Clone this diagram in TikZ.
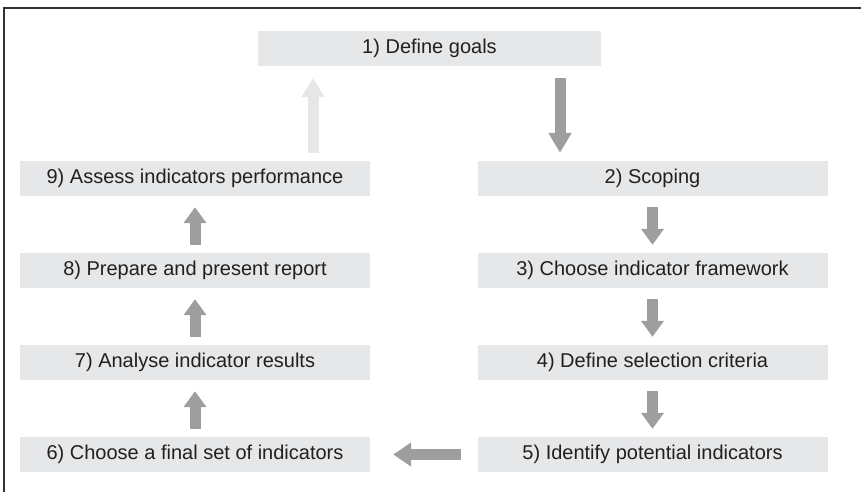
\documentclass[tikz,border=0pt]{standalone}
\usepackage{fontspec}
\setmainfont{Liberation Sans}
\usetikzlibrary{arrows.meta, shapes, positioning}
\definecolor{boxgray}{HTML}{E6E7E8}
\definecolor{arrowgray}{HTML}{9D9EA0}
\definecolor{textdark}{HTML}{231F20}
\tikzset{
	stepbox/.style={fill=boxgray, text=textdark, minimum width=350pt, minimum height=35pt, inner sep=0pt, font=\fontsize{20}{24}\selectfont},
	flow/.style={draw=arrowgray, line width=11pt, -{Triangle[width=22pt,length=16pt]}},
	downflow/.style={flow, shorten <=11pt, shorten >=8pt},
	upflow/.style={flow, shorten <=8pt, shorten >=11pt},
}

\begin{document}
\begin{tikzpicture}[x=1pt, y=-1pt]
	\useasboundingbox (0,0) rectangle (861,492);
	\draw[line width=1.5pt, black!80] (4,492) -- (4,8) -- (861,8);
	\node[stepbox, minimum width=343pt] (goals) at (429.5,48.5) {1) Define goals};
	\node[stepbox] (scoping) at (652.5,178.5) {2) Scoping};
	\node[stepbox] (framework) at (652.5,270.5) {3) Choose indicator framework};
	\node[stepbox] (criteria) at (652.5,362.5) {4) Define selection criteria};
	\node[stepbox] (potential) at (652.5,454.5) {5) Identify potential indicators};
	\node[stepbox] (finalset) at (195,454.5) {6) Choose a final set of indicators};
	\node[stepbox] (analyse) at (195,362.5) {7) Analyse indicator results};
	\node[stepbox] (report) at (195,270.5) {8) Prepare and present report};
	\node[stepbox] (assess) at (195,178.5) {9) Assess indicators performance};
	\coordinate (down1) at ([xshift=130.5pt]goals.south);
	\coordinate (up9) at ([xshift=118pt]assess.north);
	\draw[flow, -{Triangle[width=22pt,length=20pt]}, shorten <=12pt, shorten >=8pt]
	(down1) -- (down1 |- scoping.north);
	\draw[flow, draw=boxgray, -{Triangle[width=22pt,length=19pt]}, shorten <=8pt, shorten >=12pt]
	(up9) -- (up9 |- goals.south);
	\draw
	(scoping.south) edge[downflow] (framework.north)
	(framework.south) edge[downflow] (criteria.north)
	(criteria.south) edge[downflow] (potential.north)
	(finalset.north) edge[upflow] (analyse.south)
	(analyse.north) edge[upflow] (report.south)
	(report.north) edge[upflow] (assess.south)
	;
	\draw[flow, -{Triangle[width=23pt,length=18pt]}, shorten <=16pt, shorten >=23pt]
	(potential.west) -- (finalset.east);
\end{tikzpicture}
\end{document}
